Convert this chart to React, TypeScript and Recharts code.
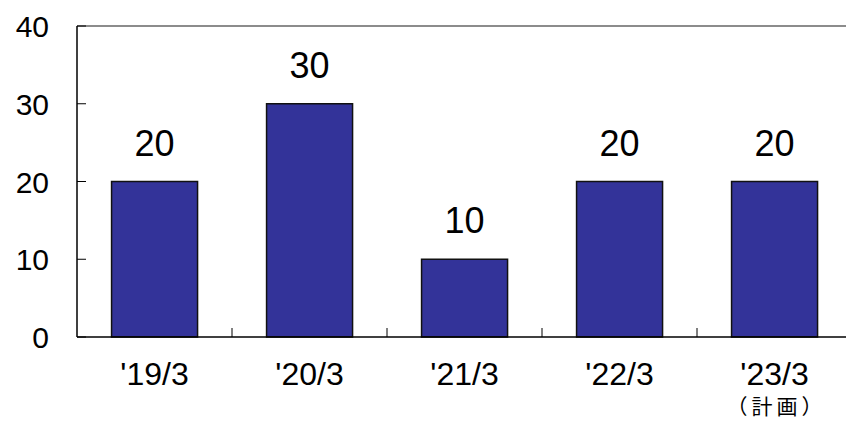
import { BarChart, Bar, XAxis, YAxis, LabelList, ReferenceLine } from 'recharts';

const periods = ["'19/3", "'20/3", "'21/3", "'22/3", "'23/3"];
const subLabels = ['', '', '', '', '（計画）'];
const values = [20, 30, 10, 20, 20];
const yTicks = [0, 10, 20, 30, 40];

const data = periods.map((p, i) => ({ period: p, sub: subLabels[i], value: values[i] }));

const FONT = '"Liberation Sans", Arial, sans-serif';

const YTick = (props: any) => {
  const { x, y, payload } = props;
  return (
    <g>
      <line x1={x} y1={y} x2={x + 9} y2={y} stroke="#000" strokeWidth={1} />
      <text x={x - 28} y={y} dy={11} textAnchor="end" fontSize={30} fontFamily={FONT} fill="#000">
        {payload.value}
      </text>
    </g>
  );
};

const XTick = (props: any) => {
  const { x, y, payload, index, width, visibleTicksCount } = props;
  const half = width / visibleTicksCount / 2;
  const sub = subLabels[index];
  return (
    <g>
      <line x1={x + half} y1={y} x2={x + half} y2={y - 9} stroke="#000" strokeWidth={1} />
      <text x={x} y={y} dy={48} textAnchor="middle" fontSize={32} fontFamily={FONT} fill="#000">
        {payload.value}
      </text>
      {sub && (
        <text
          x={x + 2}
          y={y}
          dy={77}
          textAnchor="middle"
          fontSize={21}
          letterSpacing={4}
          fontFamily='"Noto Sans CJK JP", sans-serif'
          fill="#000"
        >
          {sub}
        </text>
      )}
    </g>
  );
};

export default function App() {
  return (
    <div style={{ position: 'absolute', left: 0, top: 0, width: 846, height: 421, overflow: 'hidden', background: '#fff' }}>
      <BarChart
        width={880}
        height={421}
        data={data}
        margin={{ top: 26, right: 28, bottom: 0, left: 0 }}
        barCategoryGap="22.3%"
      >
        <ReferenceLine y={40} stroke="#8c8c8c" strokeWidth={2} />
        <XAxis
          dataKey="period"
          height={84}
          tickSize={0}
          tickMargin={0}
          tick={<XTick />}
          axisLine={{ stroke: '#000', strokeWidth: 1.5 }}
          interval={0}
        />
        <YAxis
          domain={[0, 40]}
          ticks={yTicks}
          width={77}
          tickSize={0}
          tickMargin={0}
          tick={<YTick />}
          axisLine={{ stroke: '#000', strokeWidth: 1.5 }}
          interval={0}
        />
        <Bar dataKey="value" fill="#333399" stroke="#111" strokeWidth={1.5} isAnimationActive={false}>
          <LabelList dataKey="value" position="top" offset={26} fontSize={36} fontFamily={FONT} fill="#000" />
        </Bar>
      </BarChart>
    </div>
  );
}
